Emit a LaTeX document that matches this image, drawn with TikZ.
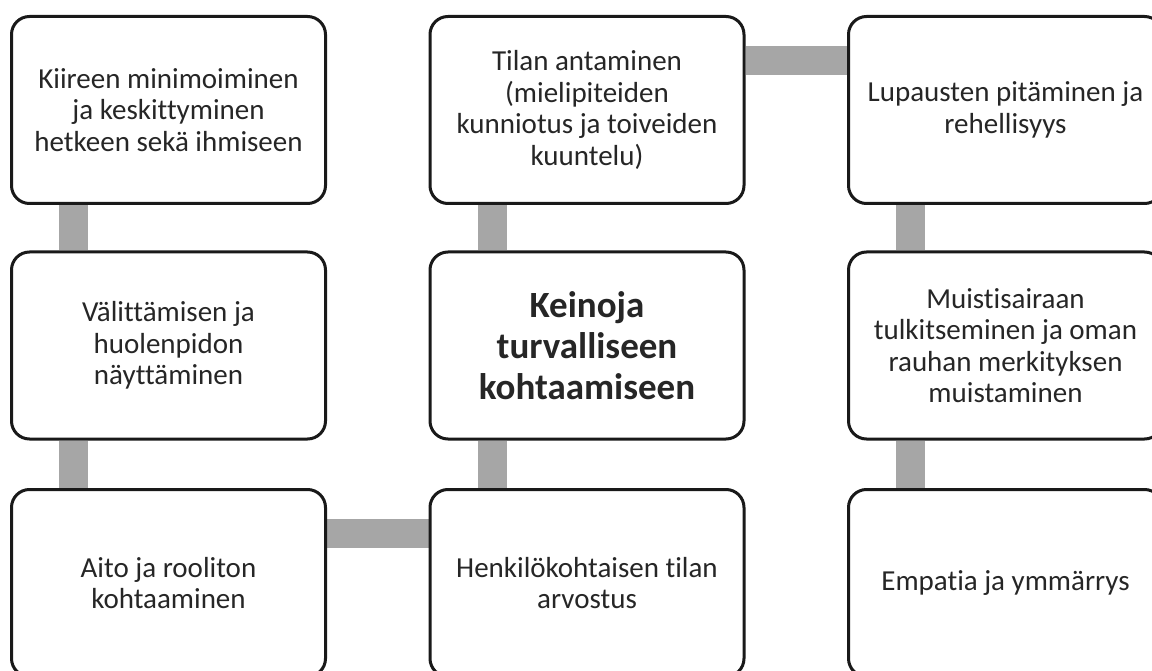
\documentclass[tikz,border=0pt]{standalone}
\usepackage{fontspec}
\setmainfont{Carlito}[Ligatures={NoCommon}]
\usetikzlibrary{backgrounds}
\definecolor{conngray}{HTML}{A6A6A6}
\definecolor{txtgray}{HTML}{262626}
\tikzset{
  card/.style={draw=black!90, line width=3pt, fill=white, rounded corners=18pt,
    minimum width=314pt, minimum height=187pt, inner sep=4pt, align=center,
    text=txtgray, font=\fontsize{29}{31.5}\selectfont},
  hub/.style={card, font=\fontsize{37}{41}\selectfont\bfseries},
  conn/.style={draw=conngray, line width=29pt}
}
\begin{document}
\begin{tikzpicture}[x=1pt,y=-1pt]
\useasboundingbox (0,0) rectangle (1152,671);
\clip (0,0) rectangle (1152,671);
\node[card] (a1) at (168.5,110) {Kiireen minimoiminen\\ja keskittyminen\\hetkeen sekä ihmiseen};
\node[card] (a2) at (168.5,345.5) {Välittämisen ja\\huolenpidon\\näyttäminen};
\node[card] (a3) at (168.5,583) {Aito ja rooliton\\kohtaaminen};
\node[card] (b1) at (587,110) {Tilan antaminen\\(mielipiteiden\\kunniotus ja toiveiden\\kuuntelu)};
\node[hub]  (b2) at (587,345.5) {Keinoja\\turvalliseen\\kohtaamiseen};
\node[card] (b3) at (587,583) {Henkilökohtaisen tilan\\arvostus};
\node[card] (c1) at (1005.5,110) {Lupausten pitäminen ja\\rehellisyys};
\node[card] (c2) at (1005.5,345.5) {Muistisairaan\\tulkitseminen ja oman\\rauhan merkityksen\\muistaminen};
\node[card] (c3) at (1005.5,583) {Empatia ja ymmärrys};
\begin{scope}[on background layer]
\draw[conn] ([xshift=63.5pt]a1.south west) -- ([xshift=63.5pt]a2.north west);
\draw[conn] ([xshift=63.5pt]a2.south west) -- ([xshift=63.5pt]a3.north west);
\draw[conn] ([yshift=-45pt]a3.north east) -- ([yshift=-45pt]b3.north west);
\draw[conn] ([xshift=63.5pt]b3.north west) -- ([xshift=63.5pt]b2.south west);
\draw[conn] ([xshift=63.5pt]b2.north west) -- ([xshift=63.5pt]b1.south west);
\draw[conn] ([yshift=-46pt]b1.north east) -- ([yshift=-46pt]c1.north west);
\draw[conn] ([xshift=63.5pt]c1.south west) -- ([xshift=63.5pt]c2.north west);
\draw[conn] ([xshift=63.5pt]c2.south west) -- ([xshift=63.5pt]c3.north west);
\end{scope}
\end{tikzpicture}
\end{document}
